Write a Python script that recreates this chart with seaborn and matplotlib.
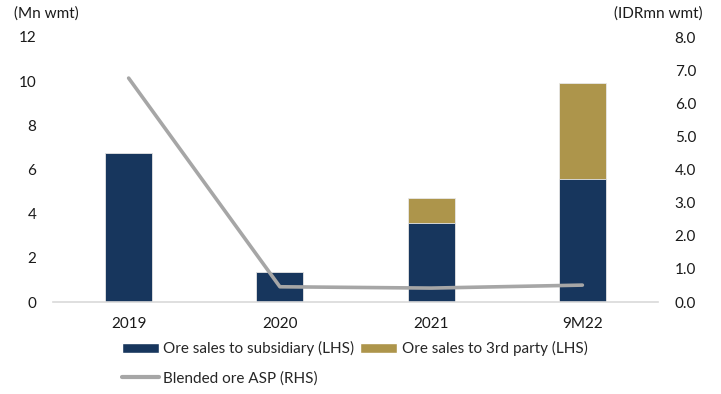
import matplotlib
matplotlib.use("Agg")
import matplotlib.pyplot as plt
from matplotlib.patches import Patch
from matplotlib.lines import Line2D
import seaborn as sns
import pandas as pd

# Ore sales volumes (Mn wmt) and blended ASP (IDRmn per wmt)
periods = ["2019", "2020", "2021", "9M22"]
sales_subsidiary = [6.75, 1.37, 3.59, 5.57]
sales_third_party = [0.0, 0.0, 1.10, 4.35]
blended_asp = [6.76, 0.46, 0.42, 0.51]

left_ticks = [0, 2, 4, 6, 8, 10, 12]
right_ticks = [0.0, 1.0, 2.0, 3.0, 4.0, 5.0, 6.0, 7.0, 8.0]

navy = "#17365D"
gold = "#AD954B"
grey = "#A6A6A6"
text_col = "#1A1A1A"
fs = 11

sns.set_theme(style="white")
plt.rcParams["font.family"] = ["Lato", "DejaVu Sans"]
plt.rcParams["font.size"] = fs

df = pd.DataFrame({
    "period": periods,
    "subsidiary": sales_subsidiary,
    "third": sales_third_party,
})
df["total"] = df["subsidiary"] + df["third"]

fig = plt.figure(figsize=(7.21, 3.94), dpi=100)
ax = fig.add_axes([53 / 721, 1 - 302 / 394, 605 / 721, 265 / 394])

sns.barplot(data=df, x="period", y="total", color=gold, width=0.31,
            saturation=1, ax=ax, order=periods, linewidth=0.6,
            edgecolor="#E8E8E8")
sns.barplot(data=df, x="period", y="subsidiary", color=navy, width=0.31,
            saturation=1, ax=ax, order=periods, linewidth=0.6,
            edgecolor="#E8E8E8")

ax.set_ylim(0, 12)
ax.set_yticks(left_ticks)
ax.set_yticklabels([str(t) for t in left_ticks])
ax.set_xlabel("")
ax.set_ylabel("")
for s in ["top", "right", "left"]:
    ax.spines[s].set_visible(False)
ax.spines["bottom"].set_color("#D9D9D9")
ax.spines["bottom"].set_linewidth(1.2)
ax.tick_params(axis="x", length=0, labelsize=fs, colors=text_col, pad=11)
ax.tick_params(axis="y", length=0, labelsize=fs, colors=text_col, pad=12)

ax2 = ax.twinx()
sns.lineplot(x=[0, 1, 2, 3], y=blended_asp, color=grey, linewidth=2.6,
             ax=ax2, solid_capstyle="round")
ax2.set_ylim(0, 8)
ax2.set_yticks(right_ticks)
ax2.set_yticklabels([f"{t:.1f}" for t in right_ticks])
ax2.set_ylabel("")
for s in ["top", "right", "left", "bottom"]:
    ax2.spines[s].set_visible(False)
ax2.tick_params(axis="y", length=0, labelsize=fs, colors=text_col, pad=12)
ax.set_xlim(-0.5, 3.5)

fig.text(14 / 721, 1 - 14 / 394, "(Mn wmt)", fontsize=fs, color=text_col,
         ha="left", va="center")
fig.text(703 / 721, 1 - 14 / 394, "(IDRmn wmt)", fontsize=fs, color=text_col,
         ha="right", va="center")

handles = [
    Patch(facecolor=navy, label="Ore sales to subsidiary (LHS)"),
    Line2D([0], [0], color=grey, linewidth=3, label="Blended ore ASP (RHS)"),
    Patch(facecolor=gold, label="Ore sales to 3rd party (LHS)"),
]
fig.legend(handles=handles, ncol=2, loc="upper left",
           bbox_to_anchor=(122 / 721, 1 - 341 / 394), frameon=False,
           fontsize=fs, handlelength=2.4, handleheight=0.65,
           handletextpad=0.3, columnspacing=0.4, labelspacing=1.0,
           borderpad=0, borderaxespad=0)

fig.savefig("out.png", dpi=100)
